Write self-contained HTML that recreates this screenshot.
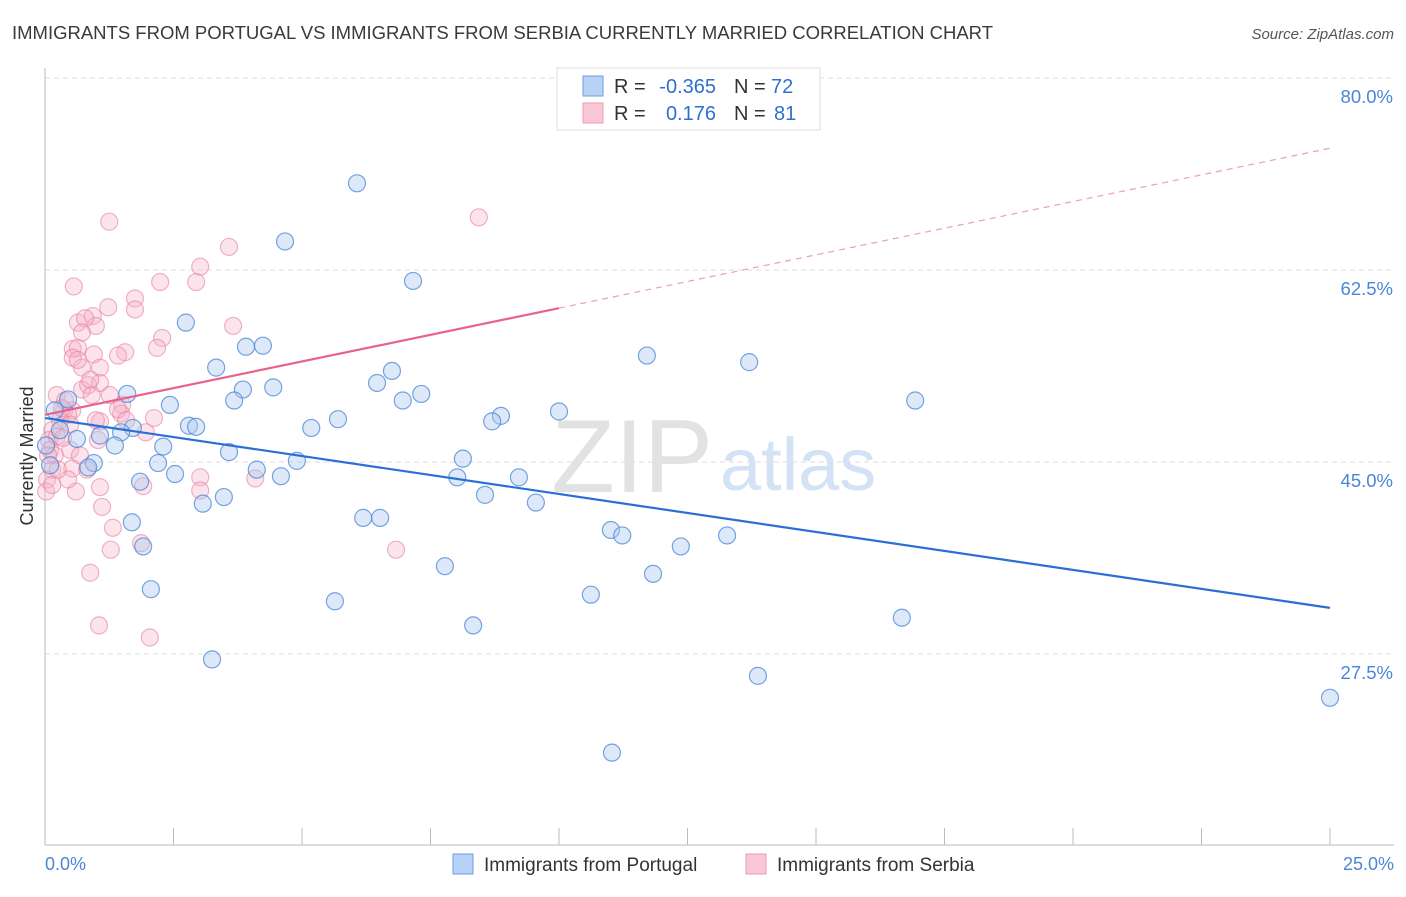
<!DOCTYPE html>
<html><head><meta charset="utf-8"><style>
body{margin:0;background:#fff;font-family:"Liberation Sans",sans-serif;}
svg text{font-family:"Liberation Sans",sans-serif;}
</style></head><body>
<svg id="chart" width="1406" height="892" xmlns="http://www.w3.org/2000/svg">
<text x="12" y="39" font-size="18.4" fill="#3a3a3a" textLength="981" lengthAdjust="spacingAndGlyphs">IMMIGRANTS FROM PORTUGAL VS IMMIGRANTS FROM SERBIA CURRENTLY MARRIED CORRELATION CHART</text>
<text x="1394" y="39" font-size="15" fill="#555" font-style="italic" text-anchor="end">Source: ZipAtlas.com</text>
<g id="grid"></g>
<text x="713" y="492" font-size="104" fill="#e2e2e2" text-anchor="end" font-family="Liberation Serif">ZIP</text>
<text x="720" y="490" font-size="74" fill="#d3e2f4">atlas</text>
<line x1="45" y1="68" x2="45" y2="845" stroke="#bbb"/>
<line x1="45" y1="845" x2="1394" y2="845" stroke="#bbb"/>
<g id="xticks"></g>
<g id="points"></g>
<g id="trends"></g>
<text x="33" y="456" font-size="18" fill="#333" text-anchor="middle" transform="rotate(-90 33 456)">Currently Married</text>
<text x="45" y="870" font-size="18" fill="#4a86d8">0.0%</text>
<text x="1394" y="870" font-size="18" fill="#4a86d8" text-anchor="end">25.0%</text>
<g>
<rect x="557" y="68" width="263" height="62" fill="#fff" stroke="#ddd"/>
<rect x="583" y="76" width="20" height="20" fill="#b7d2f4" stroke="#6a9ee0"/>
<rect x="583" y="103" width="20" height="20" fill="#f9c6d6" stroke="#ee9ab6"/>
<text x="614" y="93" font-size="20" fill="#333">R =</text>
<text x="716" y="93" font-size="20" fill="#2f6fd0" text-anchor="end">-0.365</text>
<text x="734" y="93" font-size="20" fill="#333">N =</text>
<text x="771" y="93" font-size="20" fill="#2f6fd0">72</text>
<text x="614" y="120" font-size="20" fill="#333">R =</text>
<text x="716" y="120" font-size="20" fill="#2f6fd0" text-anchor="end">0.176</text>
<text x="734" y="120" font-size="20" fill="#333">N =</text>
<text x="774" y="120" font-size="20" fill="#2f6fd0">81</text>
</g>
<g>
<rect x="453" y="854" width="20" height="20" fill="#b7d2f4" stroke="#6a9ee0"/>
<text x="484" y="871" font-size="19" fill="#333">Immigrants from Portugal</text>
<rect x="746" y="854" width="20" height="20" fill="#f9c6d6" stroke="#ee9ab6"/>
<text x="777" y="871" font-size="19" fill="#333">Immigrants from Serbia</text>
</g>
</svg>
<script>
const yTicks=[80,62.5,45,27.5];
const xTicks=[0,2.5,5,7.5,10,12.5,15,17.5,20,22.5,25];
const portugalX=[6.07,4.67,7.16,2.74,3.91,4.24,11.71,13.70,3.33,6.75,6.46,1.60,3.85,4.44,7.32,6.96,3.68,16.93,2.43,0.45,10.0,8.87,8.70,5.70,2.80,2.94,5.18,1.71,1.48,1.07,0.62,1.36,2.30,3.58,8.13,4.90,2.20,0.95,0.84,4.12,2.53,4.59,8.02,9.22,1.85,3.48,3.07,8.56,9.55,6.19,6.52,11.01,11.23,13.27,1.69,12.37,1.91,7.78,11.83,2.06,10.62,5.64,8.33,16.67,3.25,13.87,25.0,11.03,0.1,0.19,0.02,0.29];
const portugalY=[70.4,65.1,61.5,57.7,55.5,55.6,54.7,54.1,53.6,53.3,52.2,51.2,51.6,51.8,51.2,50.6,50.6,50.6,50.2,50.7,49.6,49.2,48.7,48.9,48.3,48.2,48.1,48.1,47.7,47.4,47.1,46.5,46.4,45.9,45.3,45.1,44.9,44.9,44.5,44.3,43.9,43.7,43.6,43.6,43.2,41.8,41.2,42.0,41.3,39.9,39.9,38.8,38.3,38.3,39.5,37.3,37.3,35.5,34.8,33.4,32.9,32.3,30.1,30.8,27.0,25.5,23.5,18.5,44.7,49.7,46.5,47.9];
const serbiaX=[1.25,8.44,3.58,3.02,2.24,2.94,0.56,1.75,1.23,3.66,0.64,0.93,0.99,0.78,2.28,2.18,0.54,1.56,1.42,0.64,0.95,0.54,0.72,1.07,0.72,0.84,1.07,0.91,0.23,0.53,0.37,0.45,1.50,2.12,1.48,1.96,1.07,0.29,0.49,0.14,0.08,0.23,0.10,0.49,0.68,0.14,0.53,3.02,4.09,0.82,0.04,0.02,0.60,1.07,1.91,1.11,1.32,1.87,1.28,6.83,0.88,1.05,2.04,0.35,0.19,0.06,0.39,1.26,0.33,0.88,0.64,0.14,0.45,0.99,1.42,3.02,1.75,0.72,1.58,0.25,1.03];
const serbiaY=[66.9,67.3,64.6,62.8,61.4,61.4,61.0,59.9,59.1,57.4,57.7,58.3,57.4,58.1,56.3,55.4,55.3,55.0,54.7,55.4,54.8,54.5,53.6,53.6,51.6,52.0,52.2,51.1,51.1,49.7,49.7,49.3,50.2,49.0,49.4,47.7,48.7,48.8,48.4,47.9,47.0,47.3,46.1,46.1,45.6,44.3,44.4,43.6,43.5,44.3,43.4,42.3,42.3,42.7,42.8,40.9,39.0,37.6,37.0,37.0,34.9,30.1,29.0,47.2,45.6,45.6,50.6,51.1,49.9,52.5,54.3,42.9,43.4,48.8,49.8,42.4,58.9,56.8,48.8,44.3,47.0];
const portugalTrend=[49.0,31.7];
const serbiaTrend=[49.3,73.6];
const serbiaSolidEnd=10.0;

const NS="http://www.w3.org/2000/svg";
const xs=v=>45+v*51.4;
const ys=v=>78+(80-v)*10.97;
function mk(tag,attrs,parent){const e=document.createElementNS(NS,tag);for(const k in attrs)e.setAttribute(k,attrs[k]);parent.appendChild(e);return e;}
const grid=document.getElementById('grid');
yTicks.forEach(t=>{
  const l=mk('line',{x1:45,x2:1394,y1:ys(t),y2:ys(t),stroke:'#ddd','stroke-dasharray':'5,4'},grid);
  
  
  const tx=mk('text',{x:1393,y:ys(t)+25,'font-size':18.5,fill:'#4a86d8','text-anchor':'end'},grid);
  tx.textContent=t.toFixed(1)+'%';
  
  
});
const xt=document.getElementById('xticks');
xTicks.forEach(t=>{
  const l=mk('line',{x1:xs(t),x2:xs(t),y1:828,y2:845,stroke:'#bbb'},xt);
  
  
});
const pts=document.getElementById('points');
serbiaX.forEach((x,i)=>{
  const c=mk('circle',{cx:xs(x),cy:ys(serbiaY[i]),r:8.5,fill:'#f6b3c8','fill-opacity':0.35,stroke:'#e8829f','stroke-opacity':0.6,'stroke-width':1.2},pts);
  
  
});
portugalX.forEach((x,i)=>{
  const c=mk('circle',{cx:xs(x),cy:ys(portugalY[i]),r:8.5,fill:'#a9c8f0','fill-opacity':0.4,stroke:'#4a86d8','stroke-opacity':0.75,'stroke-width':1.2},pts);
  
  
});
const tr=document.getElementById('trends');
const pl=mk('line',{x1:xs(0),y1:ys(portugalTrend[0]),x2:xs(25),y2:ys(portugalTrend[1]),stroke:'#2a6fd6','stroke-width':2.2},tr);


const sAt=x=>serbiaTrend[0]+(serbiaTrend[1]-serbiaTrend[0])*x/25;
const sl=mk('line',{x1:xs(0),y1:ys(sAt(0)),x2:xs(serbiaSolidEnd),y2:ys(sAt(serbiaSolidEnd)),stroke:'#e8628f','stroke-width':2.2},tr);


const sd=mk('line',{x1:xs(serbiaSolidEnd),y1:ys(sAt(serbiaSolidEnd)),x2:xs(25),y2:ys(sAt(25)),stroke:'#e8a0b8','stroke-width':1.2,'stroke-dasharray':'6,5'},tr);


</script>
</body></html>
